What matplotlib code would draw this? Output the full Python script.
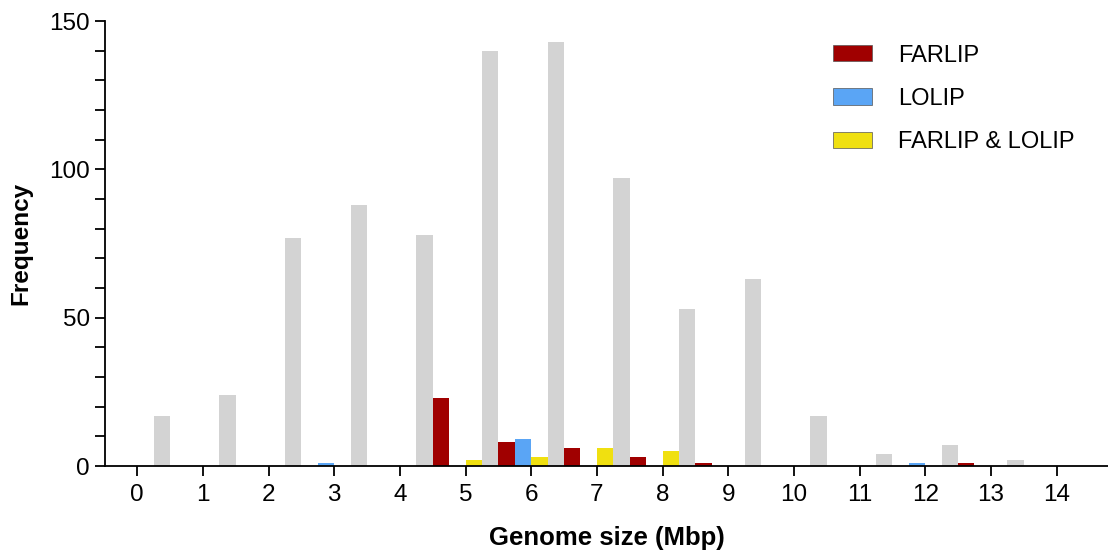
import matplotlib.pyplot as plt
import numpy as np
from matplotlib.ticker import MultipleLocator

plt.rcParams['font.family'] = ['Liberation Sans', 'DejaVu Sans']

bins = np.arange(0, 15)
allGenomes = [17, 24, 77, 88, 78, 140, 143, 97, 53, 63, 17, 4, 7, 2, 0]
farlip = [0, 0, 0, 0, 23, 8, 6, 3, 1, 0, 0, 0, 1, 0, 0]
lolip = [0, 0, 1, 0, 0, 9, 0, 0, 0, 0, 0, 1, 0, 0, 0]
farlipLolip = [0, 0, 0, 0, 2, 3, 6, 5, 0, 0, 0, 0, 0, 0, 0]
seriesNames = ["FARLIP", "LOLIP", "FARLIP & LOLIP"]
seriesColors = ["#a00000", "#5aa5f5", "#f0e010"]
grayColor = "#d3d3d3"

fig = plt.figure(figsize=(11.08, 5.54), dpi=100)
ax = fig.add_axes([0.0948, 0.1588, 0.905, 0.8032])

w = 0.25
ax.bar(bins + 0.375, allGenomes, width=w, color=grayColor, linewidth=0)
handles = []
for i, (vals, name, col) in enumerate(zip([farlip, lolip, farlipLolip], seriesNames, seriesColors)):
    h = ax.bar(bins + 0.625 + i * w, vals, width=w, color=col, linewidth=0, label=name)
    handles.append(h)

ax.set_xlim(-0.49, 14.78)
ax.set_ylim(0, 150)
ax.set_xticks(bins)
ax.yaxis.set_major_locator(MultipleLocator(50))
ax.yaxis.set_minor_locator(MultipleLocator(10))
ax.spines['top'].set_visible(False)
ax.spines['right'].set_visible(False)
ax.spines['left'].set_linewidth(1.3)
ax.spines['bottom'].set_linewidth(1.3)
ax.tick_params(axis='both', which='major', length=7, width=1.3, labelsize=17.5, pad=4)
ax.tick_params(axis='x', which='major', pad=6)
ax.tick_params(axis='y', which='minor', length=7, width=1.3)

ax.set_xlabel("Genome size (Mbp)", fontsize=18.5, fontweight='bold', labelpad=14)
ax.set_ylabel("Frequency", fontsize=17.5, fontweight='bold', labelpad=12)

leg = ax.legend(handles=handles, loc='upper right', bbox_to_anchor=(0.988, 0.995),
                frameon=False, fontsize=17, handlelength=1.65, handleheight=0.68,
                labelspacing=0.9, handletextpad=1.1)
for p in leg.get_patches():
    p.set_edgecolor('#555555')
    p.set_linewidth(0.5)

fig.savefig("out.png", dpi=100)
